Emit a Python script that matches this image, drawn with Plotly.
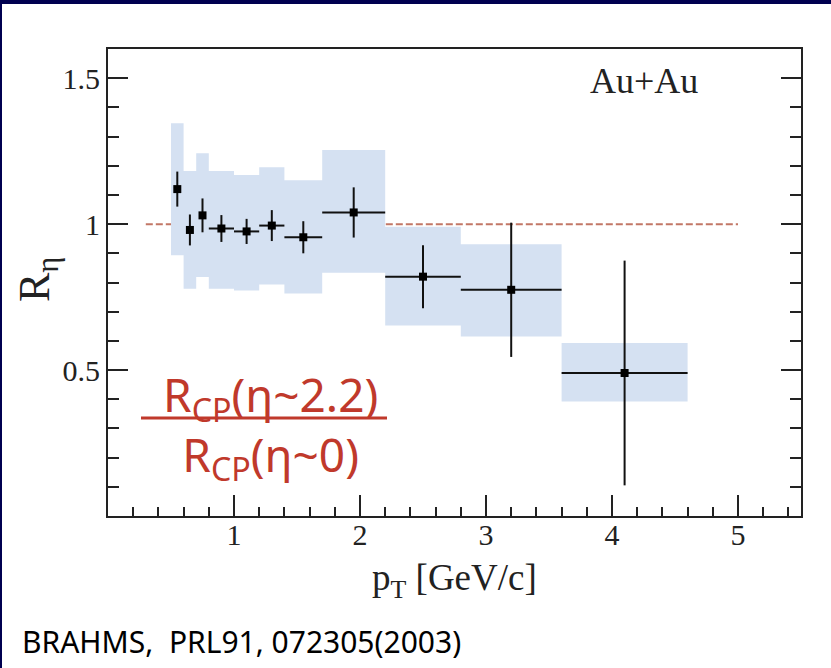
import plotly.graph_objects as go

# ---- data ----
pt = [0.55, 0.65, 0.75, 0.9, 1.1, 1.3, 1.55, 1.95, 2.5, 3.2, 4.1]
r_eta = [1.12, 0.98, 1.03, 0.985, 0.975, 0.995, 0.955, 1.04, 0.82, 0.775, 0.49]
stat_err = [0.06, 0.053, 0.058, 0.046, 0.043, 0.053, 0.055, 0.086, 0.108, 0.23, 0.385]
pt_err = [0, 0, 0, 0.1, 0.1, 0.1, 0.15, 0.25, 0.3, 0.4, 0.5]
bin_lo = [0.5, 0.6, 0.7, 0.8, 1.0, 1.2, 1.4, 1.7, 2.2, 2.8, 3.6]
bin_hi = [0.6, 0.7, 0.8, 1.0, 1.2, 1.4, 1.7, 2.2, 2.8, 3.6, 4.6]
sys_lo = [0.893, 0.779, 0.819, 0.779, 0.773, 0.793, 0.762, 0.833, 0.653, 0.615, 0.392]
sys_hi = [1.346, 1.182, 1.243, 1.182, 1.168, 1.195, 1.150, 1.254, 0.991, 0.931, 0.593]
ref_x = [0.3, 5.0]
ref_y = [1.0, 1.0]
x_ticks = [1, 2, 3, 4, 5]
y_ticks = [0.5, 1, 1.5]
y_ticklabels = ["0.5", "1", "1.5"]

W, H = 831, 668
L, R, T, B = 108, 30, 49, 152
PW, PH = W - L - R, H - T - B


def px(x):
    return (x - L) / PW


def py(y):
    return (H - B - y) / PH


fig = go.Figure()

# reference line at 1 (drawn first, under the boxes)
fig.add_trace(go.Scatter(x=ref_x, y=ref_y, mode="lines",
                         line=dict(color="#c27766", width=2, dash="7px,3px"),
                         hoverinfo="skip", showlegend=False))

# systematic boxes
bx, by = [], []
for lo, hi, ylo, yhi in zip(bin_lo, bin_hi, sys_lo, sys_hi):
    bx += [lo, hi, hi, lo, lo, None]
    by += [ylo, ylo, yhi, yhi, ylo, None]
fig.add_trace(go.Scatter(x=bx, y=by, mode="none", fill="toself",
                         fillcolor="#d5e1f2", hoverinfo="skip", showlegend=False))

# data points
fig.add_trace(go.Scatter(
    x=pt, y=r_eta, mode="markers",
    marker=dict(symbol="square", size=8, color="black"),
    error_y=dict(type="data", array=stat_err, color="#111111", thickness=2, width=0),
    error_x=dict(type="data", array=pt_err, color="#111111", thickness=2, width=0),
    showlegend=False))

axis_font = dict(family="Liberation Serif", size=30, color="#222222")

fig.update_layout(
    width=W, height=H,
    margin=dict(l=L, r=R, t=T, b=B),
    paper_bgcolor="white", plot_bgcolor="white",
    showlegend=False,
    xaxis=dict(range=[0, 5.5], tickvals=x_ticks, ticks="inside", ticklen=21,
               tickwidth=2, tickcolor="#222222", showline=True, linewidth=2,
               linecolor="#222222", mirror=True, showgrid=False, zeroline=False,
               tickfont=axis_font, ticklabelstandoff=-9,
               minor=dict(dtick=0.2, tick0=0, ticks="inside", ticklen=9,
                          tickwidth=2, tickcolor="#222222", showgrid=False)),
    yaxis=dict(range=[0, 1.6], tickvals=y_ticks, ticktext=y_ticklabels,
               ticks="inside", ticklen=20, tickwidth=2, tickcolor="#222222",
               showline=True, linewidth=2, linecolor="#222222", mirror="ticks",
               showgrid=False, zeroline=False, tickfont=axis_font,
               minor=dict(dtick=0.1, tick0=0, ticks="inside", ticklen=11,
                          tickwidth=2, tickcolor="#222222", showgrid=False)),
)

annots = [
    dict(text="R<sub>η</sub>", x=px(37), y=py(280), textangle=-90,
         font=dict(family="Liberation Serif", size=44, color="#222222"),
         xanchor="center", yanchor="middle"),
    dict(text="p<sub>T</sub> [GeV/c]", x=0.5, y=py(580),
         font=dict(family="Liberation Serif", size=37, color="#222222"),
         xanchor="center", yanchor="middle"),
    dict(text="Au+Au", x=px(588), y=py(81),
         font=dict(family="Liberation Serif", size=36, color="#222222"),
         xanchor="left", yanchor="middle"),
    dict(text="R<sub>CP</sub>(η~2.2)<br>R<sub>CP</sub>(η~0)", x=px(270), y=py(426),
         font=dict(family="Noto Sans", size=46, color="#c0392b"),
         align="center", xanchor="center", yanchor="middle"),
    dict(text="BRAHMS,  PRL91, 072305(2003)", x=px(20), y=py(641),
         font=dict(family="Noto Sans", size=30, color="black"),
         xanchor="left", yanchor="middle"),
]
for a in annots:
    fig.add_annotation(xref="paper", yref="paper", showarrow=False, **a)

# fraction bar and page frame
fig.add_shape(type="line", xref="paper", yref="paper",
              x0=px(141), x1=px(387), y0=py(418), y1=py(418),
              line=dict(color="#c0392b", width=3))
fig.add_shape(type="rect", xref="paper", yref="paper",
              x0=px(0), x1=px(W), y0=py(0), y1=py(4),
              fillcolor="#000050", line=dict(width=0))
fig.add_shape(type="rect", xref="paper", yref="paper",
              x0=px(0), x1=px(2), y0=py(0), y1=py(H),
              fillcolor="#000050", line=dict(width=0))

fig.write_html("out.html")
